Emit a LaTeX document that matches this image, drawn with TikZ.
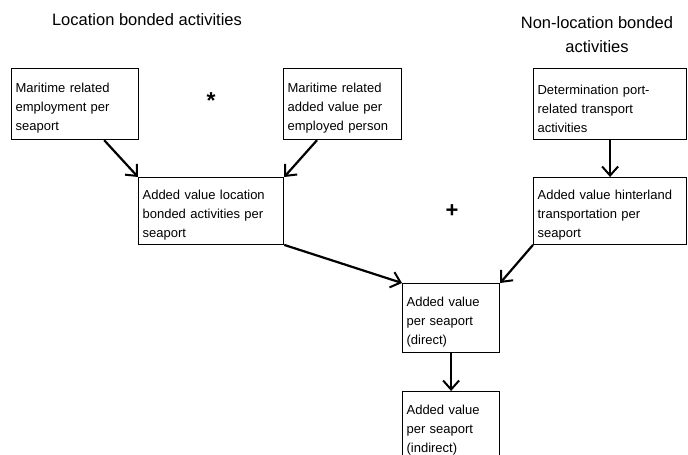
\documentclass[tikz,border=0pt]{standalone}
\usepackage{fontspec}
\setmainfont{Liberation Sans}
\usetikzlibrary{arrows.meta}

\tikzset{
  stepbox/.style={draw, line width=1.2pt, anchor=north west, align=left, inner sep=4pt,
    font=\fontsize{13}{19}\selectfont, execute at begin node={\rule{0pt}{18pt}}},
  flow/.style={-{Straight Barb[length=9pt,width=16pt,line width=2pt]}, line width=2.2pt},
  heading/.style={align=center, font=\fontsize{16.5}{24}\selectfont},
}

\begin{document}
\begin{tikzpicture}[x=1pt, y=-1pt]
            \useasboundingbox (0, 0) rectangle (688, 455);

            % headings
            \node[heading] (lochead) at (147, 20) {Location bonded activities};
            \node[heading] (nonlochead) at (597, 35) {Non-location bonded\\activities};

            % location bonded side
            \node[stepbox, text width=119pt, minimum height=71pt] (employ) at (11, 68) {Maritime related\\employment per\\seaport};
            \node[stepbox, text width=110pt, minimum height=71pt] (perperson) at (283, 68) {Maritime related\\added value per\\employed person};
            \node[stepbox, text width=137pt, minimum height=66pt] (locval) at (138, 177) {Added value location\\bonded activities per\\seaport};

            % non-location bonded side
            \node[stepbox, text width=145pt, minimum height=71pt] (transport) at (533, 68) {Determination port-\\related transport\\activities};
            \node[stepbox, text width=145pt, minimum height=66pt] (hinter) at (533, 177) {Added value hinterland\\transportation per\\seaport};

            % totals
            \node[stepbox, text width=89pt, minimum height=69pt] (direct) at (402, 283) {Added value\\per seaport\\(direct)};
            \node[stepbox, text width=89pt, minimum height=69pt] (indirect) at (402, 391) {Added value\\per seaport\\(indirect)};

            % operators
            \node[font=\bfseries\fontsize{23}{23}\selectfont] (times) at (211, 101) {*};
            \node[font=\bfseries\fontsize{22}{22}\selectfont] (plus) at (452, 211) {+};

            \draw[flow] ([xshift=-35pt]employ.south east) -- (locval.north west);
            \draw[flow] ([xshift=34pt]perperson.south west) -- (locval.north east);
            \draw[flow] (transport.south) -- (hinter.north);
            \draw[flow] (locval.south east) -- (direct.north west);
            \draw[flow] (hinter.south west) -- (direct.north east);
            \draw[flow] (direct.south) -- (indirect.north);
        \end{tikzpicture}
\end{document}
